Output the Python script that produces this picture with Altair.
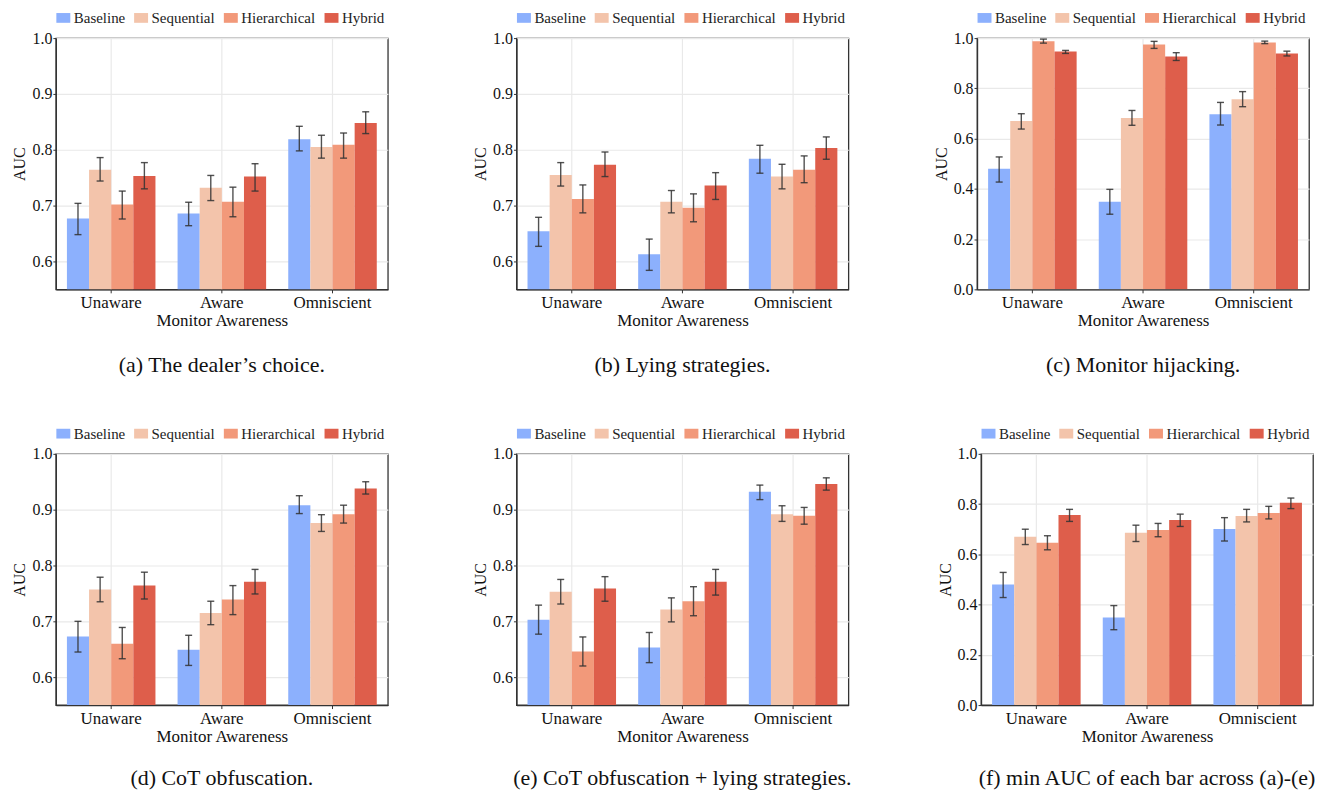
import altair as alt
import pandas as pd

groups = ["Unaware", "Aware", "Omniscient"]
methods = ["Baseline", "Sequential", "Hierarchical", "Hybrid"]
colors = ["#8cb0fd", "#f3c4ab", "#f2997a", "#de5e4b"]

# values in order: Unaware(B,S,Hi,Hy), Aware(...), Omniscient(...)
a_auc = [0.677, 0.764, 0.702, 0.753, 0.686, 0.732, 0.707, 0.752, 0.819, 0.805, 0.809, 0.848]
a_lo = [0.648, 0.744, 0.676, 0.730, 0.664, 0.709, 0.680, 0.726, 0.798, 0.785, 0.785, 0.829]
a_hi = [0.704, 0.786, 0.726, 0.777, 0.706, 0.754, 0.733, 0.775, 0.842, 0.826, 0.830, 0.868]

b_auc = [0.654, 0.755, 0.712, 0.773, 0.613, 0.707, 0.696, 0.736, 0.784, 0.752, 0.764, 0.803]
b_lo = [0.627, 0.735, 0.687, 0.752, 0.584, 0.687, 0.671, 0.711, 0.758, 0.730, 0.741, 0.783]
b_hi = [0.679, 0.777, 0.737, 0.796, 0.640, 0.727, 0.721, 0.759, 0.808, 0.774, 0.789, 0.823]

c_auc = [0.480, 0.670, 0.987, 0.947, 0.349, 0.682, 0.975, 0.927, 0.697, 0.757, 0.983, 0.939]
c_lo = [0.427, 0.638, 0.980, 0.939, 0.299, 0.653, 0.959, 0.911, 0.654, 0.727, 0.978, 0.929]
c_hi = [0.527, 0.699, 0.996, 0.951, 0.398, 0.712, 0.987, 0.942, 0.744, 0.787, 0.988, 0.948]

d_auc = [0.673, 0.757, 0.660, 0.764, 0.649, 0.715, 0.739, 0.771, 0.908, 0.876, 0.892, 0.938]
d_lo = [0.645, 0.735, 0.633, 0.740, 0.621, 0.694, 0.712, 0.749, 0.893, 0.861, 0.876, 0.928]
d_hi = [0.700, 0.779, 0.689, 0.788, 0.675, 0.736, 0.764, 0.793, 0.925, 0.891, 0.908, 0.950]

e_auc = [0.703, 0.753, 0.646, 0.759, 0.653, 0.721, 0.736, 0.771, 0.932, 0.892, 0.889, 0.946]
e_lo = [0.677, 0.731, 0.620, 0.736, 0.626, 0.699, 0.710, 0.747, 0.918, 0.879, 0.874, 0.935]
e_hi = [0.729, 0.775, 0.672, 0.780, 0.680, 0.742, 0.762, 0.793, 0.944, 0.907, 0.904, 0.957]

f_auc = [0.480, 0.670, 0.646, 0.757, 0.349, 0.686, 0.697, 0.737, 0.701, 0.753, 0.765, 0.805]
f_lo = [0.428, 0.639, 0.618, 0.731, 0.300, 0.651, 0.670, 0.711, 0.653, 0.729, 0.741, 0.782]
f_hi = [0.528, 0.700, 0.674, 0.779, 0.396, 0.716, 0.723, 0.760, 0.746, 0.779, 0.791, 0.824]

captions = [
    "(a) The dealer\u2019s choice.",
    "(b) Lying strategies.",
    "(c) Monitor hijacking.",
    "(d) CoT obfuscation.",
    "(e) CoT obfuscation + lying strategies.",
    "(f) min AUC of each bar across (a)-(e)",
]

ticks_hi = [0.6, 0.7, 0.8, 0.9, 1.0]
ticks_full = [0.0, 0.2, 0.4, 0.6, 0.8, 1.0]

FONT = "Liberation Serif"
W, H = 333, 252


def panel(auc, lo, hi, ydom, yticks, caption, cap_offset):
    rows = []
    for gi, g in enumerate(groups):
        for mi, m in enumerate(methods):
            k = gi * 4 + mi
            rows.append(dict(group=g, method=m, auc=auc[k], lo=lo[k], hi=hi[k]))
    df = pd.DataFrame(rows)
    x = alt.X(
        "group:N", sort=groups, title="Monitor Awareness",
        scale=alt.Scale(paddingInner=0.2, paddingOuter=0.1),
        axis=alt.Axis(labelAngle=0, grid=True, bandPosition=0.5, tickSize=3.5,
                      labelPadding=2, titlePadding=2),
    )
    xo = alt.XOffset("method:N", sort=methods, scale=alt.Scale(paddingInner=0, paddingOuter=0))
    yscale = alt.Scale(domain=ydom, nice=False, zero=False)
    y = alt.Y("auc:Q", scale=yscale, title="AUC",
              axis=alt.Axis(values=yticks, format=".1f", tickSize=3, labelPadding=1, titlePadding=4))
    color = alt.Color(
        "method:N", sort=methods,
        scale=alt.Scale(domain=methods, range=colors),
        legend=alt.Legend(orient="none", legendX=0, legendY=-28, direction="horizontal", title=None,
                          symbolType="M-1,-0.7L1,-0.7L1,0.7L-1,0.7Z", symbolSize=196,
                          symbolStrokeWidth=0, symbolOpacity=1,
                          labelFont=FONT, labelFontSize=15, labelColor="#222",
                          labelOffset=3, columnPadding=8, padding=0),
    )
    bars = alt.Chart(df).mark_bar(clip=True, opacity=1).encode(x=x, xOffset=xo, y=y, color=color)
    err = alt.Chart(df).mark_rule(color="#333", strokeWidth=1.4, opacity=0.85).encode(
        x=x, xOffset=xo, y=alt.Y("lo:Q", scale=yscale), y2="hi:Q")
    cap_lo = alt.Chart(df).mark_tick(orient="horizontal", size=7, thickness=1.4,
                                     color="#333", opacity=0.85).encode(
        x=x, xOffset=xo, y=alt.Y("lo:Q", scale=yscale))
    cap_hi = alt.Chart(df).mark_tick(orient="horizontal", size=7, thickness=1.4,
                                     color="#333", opacity=0.85).encode(
        x=x, xOffset=xo, y=alt.Y("hi:Q", scale=yscale))
    return alt.layer(bars, err, cap_lo, cap_hi).properties(
        width=W, height=H,
        title=alt.TitleParams(caption, orient="bottom", anchor="middle", font=FONT,
                              fontSize=22, fontWeight="normal", color="#111", offset=cap_offset),
    )


p = [
    panel(a_auc, a_lo, a_hi, [0.55, 1.0], ticks_hi, captions[0], 26),
    panel(b_auc, b_lo, b_hi, [0.55, 1.0], ticks_hi, captions[1], 26),
    panel(c_auc, c_lo, c_hi, [0.0, 1.0], ticks_full, captions[2], 26),
    panel(d_auc, d_lo, d_hi, [0.55, 1.0], ticks_hi, captions[3], 24),
    panel(e_auc, e_lo, e_hi, [0.55, 1.0], ticks_hi, captions[4], 24),
    panel(f_auc, f_lo, f_hi, [0.0, 1.0], ticks_full, captions[5], 24),
]

row1 = alt.hconcat(*p[:3], spacing=83).resolve_scale(color="independent", x="independent", y="independent").resolve_legend(color="independent")
row2 = alt.hconcat(*p[3:], spacing=83).resolve_scale(color="independent", x="independent", y="independent").resolve_legend(color="independent")

chart = alt.vconcat(row1, row2, spacing=48).resolve_scale(
    color="independent", x="independent", y="independent"
).resolve_legend(color="independent").properties(
    padding={"left": 3, "top": 0, "right": 0, "bottom": 0}
).configure(
    font=FONT
).configure_view(
    stroke="#333", strokeWidth=1.3
).configure_axis(
    labelFont=FONT, titleFont=FONT, labelFontSize=16, titleFontSize=16,
    labelColor="#111", titleColor="#111", titleFontWeight="normal",
    domainColor="#333", domainWidth=1.3, tickColor="#333", tickWidth=1,
    gridColor="#e9e9e9", gridWidth=1.2,
).configure_axisX(
    labelFontSize=17, titleFontSize=17,
).configure_legend(
    labelFont=FONT
).configure_title(
    font=FONT
)

chart.save("out.html", embed_options={"renderer": "svg", "actions": False})
